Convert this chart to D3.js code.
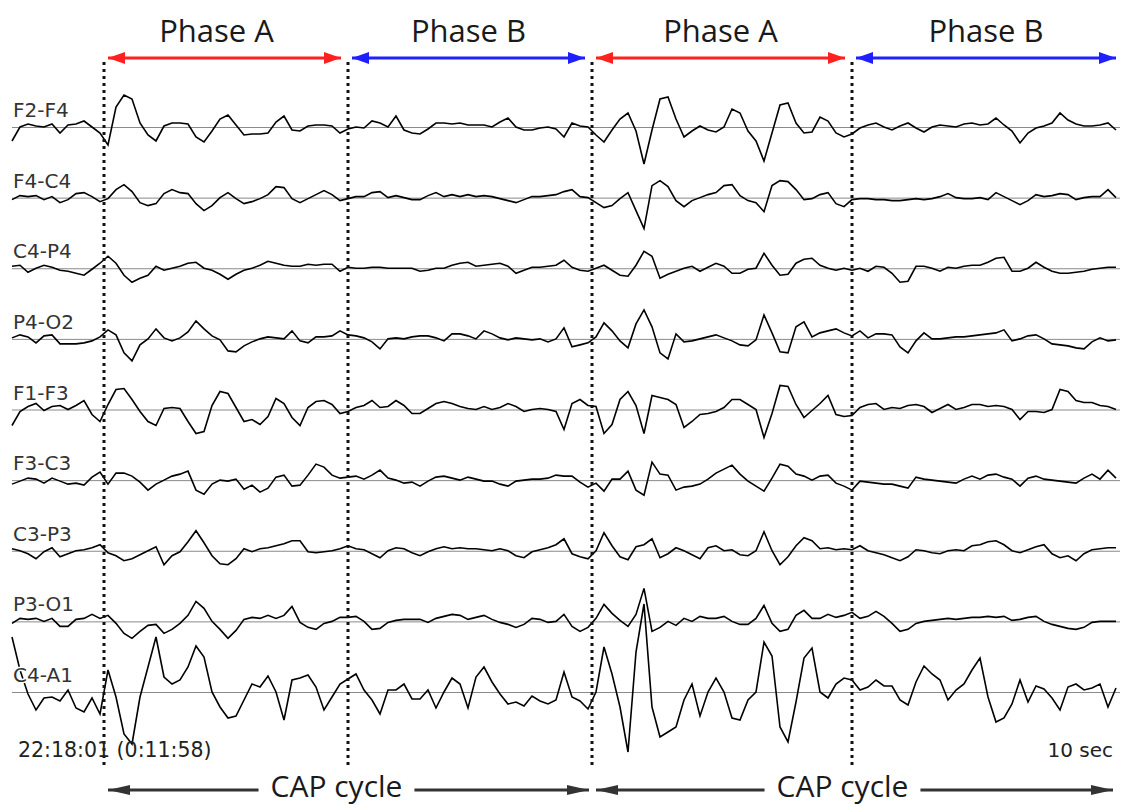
<!DOCTYPE html>
<html>
<head>
<meta charset="utf-8">
<script src="https://cdn.jsdelivr.net/npm/d3@7"></script>
<style>
  body { margin: 0; background: #fff; }
  svg { display: block; }
</style>
</head>
<body>
<svg id="chart" width="1123" height="805"></svg>
<script>
// montage, top to bottom
const channels = ['F2-F4', 'F4-C4', 'C4-P4', 'P4-O2', 'F1-F3', 'F3-C3', 'C3-P3', 'P3-O1', 'C4-A1'];

const f2f4 = [
  -14, 0, 3, 1, 0, 3, -6, 2, 3, 6,
  0, -6, -18, 20, 32, 28, 4, -8, -14, 1,
  4, 4, 3, -10, -15, -4, 8, 12, 2, -8,
  -7, -7, -6, 5, 11, -3, -4, 1, 2, 2,
  1, -6, -2, 0, -1, 6, 4, 0, 11, -3,
  -6, -7, -2, 4, 4, 3, 4, 2, 2, 2,
  0, 5, 9, 0, -3, -3, -1, 0, -2, -10,
  4, 1, 0, -8, -15, -3, 8, 14, -4, -37,
  -3, 28, 30, 8, -10, -4, 1, -3, -5, 0,
  18, 14, -4, -14, -34, -6, 22, 24, 4, -6,
  -5, 10, 6, -6, -10, -7, -1, 2, 4, 0,
  -3, 1, 4, -1, -5, 0, 2, 1, 0, 3,
  4, 2, 3, 9, 2, -4, -16, -6, -1, 1,
  4, 14, 7, 3, 1, 1, 2, 4, -3
];
const f4c4 = [
  -2, 2, 1, 2, -2, 1, -5, -2, 4, 5,
  1, -4, -1, 8, 13, 6, -5, -8, -6, 4,
  8, 5, 4, -6, -13, -8, 0, 5, -1, -6,
  -4, -1, 3, 11, 10, -1, -5, -1, 3, 7,
  3, -3, -1, 1, 1, 5, 6, 0, 2, 0,
  -2, -2, 2, 5, 1, 3, 1, 3, 1, 2,
  1, -1, -3, -5, -2, 1, 1, 2, 3, 6,
  8, 1, 0, -5, -10, -8, -1, 5, -13, -31,
  12, 17, 11, -3, -9, -3, 0, 3, 5, 12,
  13, 2, -3, -5, -14, 12, 17, 16, 8, -2,
  -1, 3, 5, -6, -9, -2, -1, -1, -2, -2,
  -3, -3, -2, -1, -2, -1, 1, 4, 0, -1,
  -1, 0, -2, 5, 1, -3, -7, -3, 3, 1,
  2, 4, 3, -2, 0, 1, 1, 8, 0
];
const c4p4 = [
  2, 3, -4, 0, 3, 1, -2, -3, -5, -7,
  -1, 5, 12, 5, -7, -14, -10, -7, 2, -2,
  0, 2, 5, 6, 0, -2, -6, -11, -6, -2,
  0, 3, 7, 5, 3, 2, 2, 4, 3, 4,
  4, -3, 1, 0, 0, 1, 1, 0, 0, 0,
  0, -3, -2, 0, 0, 3, 5, 6, 2, 3,
  4, 5, 2, -5, -2, 1, 1, 2, 3, 8,
  1, -2, -3, 0, 3, -2, -7, -8, 3, 17,
  12, -10, -6, -3, 0, 2, -3, 1, 5, 2,
  -5, -5, -1, 0, 15, 3, -7, -6, 5, 9,
  10, 3, 0, -2, 0, -2, 0, -3, 2, 1,
  -5, -14, -13, 2, 2, 0, -3, 1, 0, 2,
  3, 3, 6, 10, 11, -3, -3, 0, 6, 1,
  -3, -5, -5, -4, -3, -1, 0, 1, 1
];
const p4o2 = [
  1, 4, 2, -4, 3, 4, -5, -5, -5, -4,
  -2, 2, 9, 4, -14, -22, -6, 0, 10, 1,
  -2, 1, 7, 18, 10, 3, -1, -12, -13, -7,
  -3, 0, 2, 1, 0, 8, -2, -4, 2, 2,
  3, 8, 4, 3, 1, -3, -10, 0, 1, 0,
  2, 3, 3, 1, -2, 5, 5, 3, 0, 8,
  5, 1, -1, 1, 0, -1, 0, -3, 0, 11,
  -8, -6, -4, 2, 16, 8, -2, -9, 15, 29,
  12, -14, -20, 5, -3, -2, 0, 2, 4, 1,
  -2, -6, -7, -1, 24, 6, -13, -14, 12, 17,
  2, 6, 8, 10, 6, 3, 8, 1, 5, 5,
  4, -8, -14, -2, 6, 0, 0, 1, 2, 2,
  3, 4, 5, 6, 9, -2, 0, 3, 4, 0,
  -5, -6, -7, -9, -10, -3, 1, -2, -1
];
const f1f3 = [
  -16, -2, 3, 6, -1, 3, 4, 0, 4, 9,
  -5, -12, 5, 20, 21, 10, -2, -12, -16, 1,
  2, 1, -12, -24, -22, 4, 18, 16, 2, -12,
  -10, -15, -7, 11, 6, -8, -16, 2, 8, 9,
  5, -4, -2, 2, 4, 9, 2, 3, 9, 4,
  -4, -4, 1, 6, 8, 6, 3, 1, 0, 3,
  0, 2, 6, 3, -2, 0, 1, 0, -2, -20,
  6, 10, 4, 3, -24, -15, 10, 18, 4, -24,
  14, 12, 10, 5, -18, -12, -5, -4, -2, 2,
  10, 10, 5, 0, -28, -4, 24, 23, 5, -8,
  -1, 6, 14, -5, -7, -6, 2, 5, 6, 0,
  2, 1, 4, 5, 3, -3, 1, 5, 0, 2,
  5, 5, 3, 4, 3, 0, -10, -2, -2, -3,
  0, 20, 18, 9, 7, 7, 4, 3, 0
];
const f3c3 = [
  -4, -1, 2, 1, -3, 2, -1, -4, -3, -5,
  3, 8, -4, 7, 7, 4, -2, -10, -4, 0,
  4, 6, 9, -10, -14, -4, 0, -1, 1, -9,
  -5, -12, -8, 3, 5, -6, -5, 5, 16, 13,
  5, 2, 3, 4, 1, 5, 10, 2, 0, -3,
  -2, -6, -1, 3, 4, 2, 0, 3, 1, -1,
  -1, -4, -6, -1, 0, 1, 1, 2, 5, 4,
  4, -2, -7, -3, -11, 1, 1, 9, -10, -15,
  18, 6, 5, -10, -7, -6, -4, 1, 7, 11,
  15, 6, -1, -6, -11, 2, 16, 14, 6, 4,
  0, 4, 5, -3, -6, -10, -1, -2, -3, -4,
  -4, -6, -8, 3, 1, 0, -1, -2, -3, 1,
  4, 1, 5, 6, 3, 1, -6, 2, 4, 1,
  0, -1, -2, -3, 2, 6, 1, 10, 2
];
const c3p3 = [
  2, 0, -3, -8, -1, 3, -6, -3, 0, 1,
  3, 6, -2, -5, -10, -8, -4, 0, 4, -14,
  -5, -1, 9, 20, 8, -5, -13, -14, -8, 2,
  -1, 2, 3, 5, 7, 10, 10, -1, -2, -1,
  0, 2, 5, 2, 1, -3, -7, 0, 3, 2,
  -2, -5, -1, 2, 4, 2, 3, 2, 2, 1,
  0, 2, 0, -5, -7, -1, 1, 3, 6, 12,
  -3, -6, -8, 0, 18, 5, -6, -9, 4, 6,
  12, -7, -3, 3, 0, -4, -8, 3, 5, 0,
  1, -4, -5, 0, 19, 0, -14, -6, 5, 13,
  10, 2, 3, 1, 2, 1, 5, 0, -2, -4,
  -7, -10, -6, 1, 0, -2, -3, 0, 1, 0,
  5, 6, 9, 10, 6, 0, -2, 1, 4, 6,
  -3, -7, -5, -10, -3, 1, 2, 3, 3
];
const p3o1 = [
  -2, 3, 2, 3, 0, 3, -5, -5, 2, 3,
  7, 3, 6, -2, -12, -17, -10, -4, -3, -12,
  -8, -2, 6, 20, 13, 0, -8, -17, -9, 2,
  4, 3, 6, 3, 6, 15, -1, -6, -8, -2,
  0, 4, 4, 5, 0, -8, -7, -1, 1, 2,
  2, 2, -1, 3, 5, 7, 6, 2, 4, 6,
  2, -1, -3, -6, -3, 3, 2, -1, 0, 7,
  -5, -10, -6, 3, 17, 8, 1, -5, 7, 33,
  -10, -6, 0, -4, 3, 0, 5, 3, 3, 5,
  0, -3, -3, 3, 16, -2, -10, -8, 6, 11,
  3, 3, 7, 4, 6, 9, 3, 5, 10, 5,
  -2, -10, -8, -2, 0, 1, 2, 3, 2, 3,
  4, 4, 5, 4, 5, 1, 2, 4, 5, 0,
  -3, -5, -7, -8, -6, -1, 0, 0, 0
];
const c4a1 = [
  55, 22, -2, -18, -6, -5, -9, 2, -16, -20,
  -6, -22, 22, -5, -42, -52, -5, 25, 55, 15,
  8, 12, 25, 46, 35, 0, -15, -26, -24, -8,
  8, 5, 16, 0, -28, 12, 14, 17, 5, -18,
  -5, 8, 13, 18, 2, -8, -22, 2, 2, 8,
  -7, -7, 2, -16, 0, 14, 8, -16, 15, 25,
  10, -2, -12, -10, -14, -4, -9, -12, -8, 20,
  -5, -9, -17, 0, 45, 18, -15, -60, 40, 88,
  -15, -45, -40, -35, -8, 8, -24, 0, 14, 0,
  -26, -28, -8, 0, 50, 36, -35, -50, -10, 34,
  44, 0, -6, 8, 14, 12, 2, 5, 12, 6,
  6, -8, -13, 10, 26, 18, 12, -8, 2, 8,
  22, 34, -5, -30, -26, -12, 12, -10, 6, 3,
  -6, -18, 5, 8, 2, 4, 8, -15, 4
];
const traces = [f2f4, f4c4, c4p4, p4o2, f1f3, f3c3, c3p3, p3o1, c4a1];

const sampleStep = 0.2;                    // seconds between samples
const boundaries = [2.3, 8.4, 14.5, 21.0]; // phase onsets, seconds
const phaseLabels = ['Phase A', 'Phase B', 'Phase A', 'Phase B'];
const cycleLabels = ['CAP cycle', 'CAP cycle'];
const timeLabel = '22:18:01 (0:11:58)';
const scaleLabel = '10 sec';

const phaseColor = { 'Phase A': '#ff2020', 'Phase B': '#1f1fff' };
const inkColor = '#333';

const svg = d3.select('#chart');
const tEnd = (f2f4.length - 1) * sampleStep;

const x = d3.scaleLinear().domain([0, tEnd]).range([12, 1116]);
const row = d3.scalePoint().domain(channels).range([127, 692]);
const amp = d3.scaleLinear().domain([-100, 100]).range([100, -100]);

// arrowheads
const defs = svg.append('defs');
const addMarker = (id, color, len, half) => {
  defs.append('marker')
    .attr('id', id)
    .attr('viewBox', `0 0 ${len} ${half * 2}`)
    .attr('refX', len)
    .attr('refY', half)
    .attr('markerUnits', 'userSpaceOnUse')
    .attr('markerWidth', len)
    .attr('markerHeight', half * 2)
    .attr('orient', 'auto-start-reverse')
    .append('path')
    .attr('d', `M0,0L${len},${half}L0,${half * 2}Z`)
    .attr('fill', color);
};
addMarker('head-a', phaseColor['Phase A'], 17, 6);
addMarker('head-b', phaseColor['Phase B'], 17, 6);
addMarker('head-k', inkColor, 22, 5);

// baselines
svg.append('g').selectAll('line')
  .data(channels)
  .join('line')
  .attr('x1', x(0))
  .attr('x2', x(tEnd) + 4)
  .attr('y1', d => row(d) + 0.5)
  .attr('y2', d => row(d) + 0.5)
  .attr('stroke', '#8a8a8a')
  .attr('stroke-width', 1);

// traces
const line = d3.line()
  .x((d, i) => x(i * sampleStep))
  .y(d => amp(d));

svg.append('g').selectAll('path')
  .data(traces)
  .join('path')
  .attr('transform', (d, i) => `translate(0,${row(channels[i])})`)
  .attr('d', line)
  .attr('fill', 'none')
  .attr('stroke', '#000')
  .attr('stroke-width', 1.6)
  .attr('stroke-linejoin', 'miter');

// channel labels, with a white halo so the trace passes behind them
svg.append('g').selectAll('text')
  .data(channels)
  .join('text')
  .attr('x', 13)
  .attr('y', d => row(d) - 10)
  .attr('font-family', '"DejaVu Sans", Verdana, sans-serif')
  .attr('font-size', 20)
  .attr('fill', inkColor)
  .attr('stroke', '#fff')
  .attr('stroke-width', 3)
  .attr('paint-order', 'stroke')
  .text(d => d);

// dotted phase boundaries
svg.append('g').selectAll('line')
  .data(boundaries)
  .join('line')
  .attr('x1', d => x(d))
  .attr('x2', d => x(d))
  .attr('y1', 62)
  .attr('y2', 766)
  .attr('stroke', '#111')
  .attr('stroke-width', 3)
  .attr('stroke-dasharray', '3,4');

// phase arrows + titles
const phases = phaseLabels.map((label, i) => ({
  label,
  x0: x(boundaries[i]) + 4,
  x1: i < boundaries.length - 1 ? x(boundaries[i + 1]) - 7 : x(tEnd),
}));

const ph = svg.append('g').selectAll('g')
  .data(phases)
  .join('g');

ph.append('line')
  .attr('x1', d => d.x0)
  .attr('x2', d => d.x1)
  .attr('y1', 58)
  .attr('y2', 58)
  .attr('stroke', d => phaseColor[d.label])
  .attr('stroke-width', 3)
  .attr('marker-start', d => `url(#head-${d.label.slice(-1).toLowerCase()})`)
  .attr('marker-end', d => `url(#head-${d.label.slice(-1).toLowerCase()})`);

ph.append('text')
  .attr('x', (d, i) => (d.x0 + d.x1) / 2 - (i === 0 ? 8 : 0))
  .attr('y', 42)
  .attr('text-anchor', 'middle')
  .attr('font-family', '"Open Sans", sans-serif')
  .attr('font-size', 31)
  .attr('fill', '#1a1a1a')
  .text(d => d.label);

// CAP cycle arrows
const cycles = cycleLabels.map((label, i) => ({
  label,
  x0: x(boundaries[i * 2]) + 4,
  x1: i < cycleLabels.length - 1 ? x(boundaries[i * 2 + 2]) - 3 : x(tEnd) - 3,
}));

const cg = svg.append('g').selectAll('g')
  .data(cycles)
  .join('g');

cg.append('text')
  .attr('x', d => (d.x0 + d.x1) / 2 - 12)
  .attr('y', 797)
  .attr('text-anchor', 'middle')
  .attr('font-family', '"Open Sans", sans-serif')
  .attr('font-size', 30)
  .attr('fill', '#1a1a1a')
  .text(d => d.label)
  .each(function (d) {
    const w = this.getComputedTextLength();
    const cx = (d.x0 + d.x1) / 2 - 12;
    d.t0 = cx - w / 2 - 12;
    d.t1 = cx + w / 2 + 12;
  });

cg.append('line')
  .attr('x1', d => d.t0)
  .attr('x2', d => d.x0)
  .attr('y1', 790)
  .attr('y2', 790)
  .attr('stroke', inkColor)
  .attr('stroke-width', 3)
  .attr('marker-end', 'url(#head-k)');

cg.append('line')
  .attr('x1', d => d.t1)
  .attr('x2', d => d.x1)
  .attr('y1', 790)
  .attr('y2', 790)
  .attr('stroke', inkColor)
  .attr('stroke-width', 3)
  .attr('marker-end', 'url(#head-k)');

// footer texts
svg.append('text')
  .attr('x', 18)
  .attr('y', 757)
  .attr('font-family', '"DejaVu Sans", Verdana, sans-serif')
  .attr('font-size', 20.5)
  .attr('fill', '#222')
  .text(timeLabel);

svg.append('text')
  .attr('x', 1113)
  .attr('y', 757)
  .attr('text-anchor', 'end')
  .attr('font-family', '"DejaVu Sans", Verdana, sans-serif')
  .attr('font-size', 20)
  .attr('fill', '#222')
  .text(scaleLabel);
</script>
</body>
</html>
